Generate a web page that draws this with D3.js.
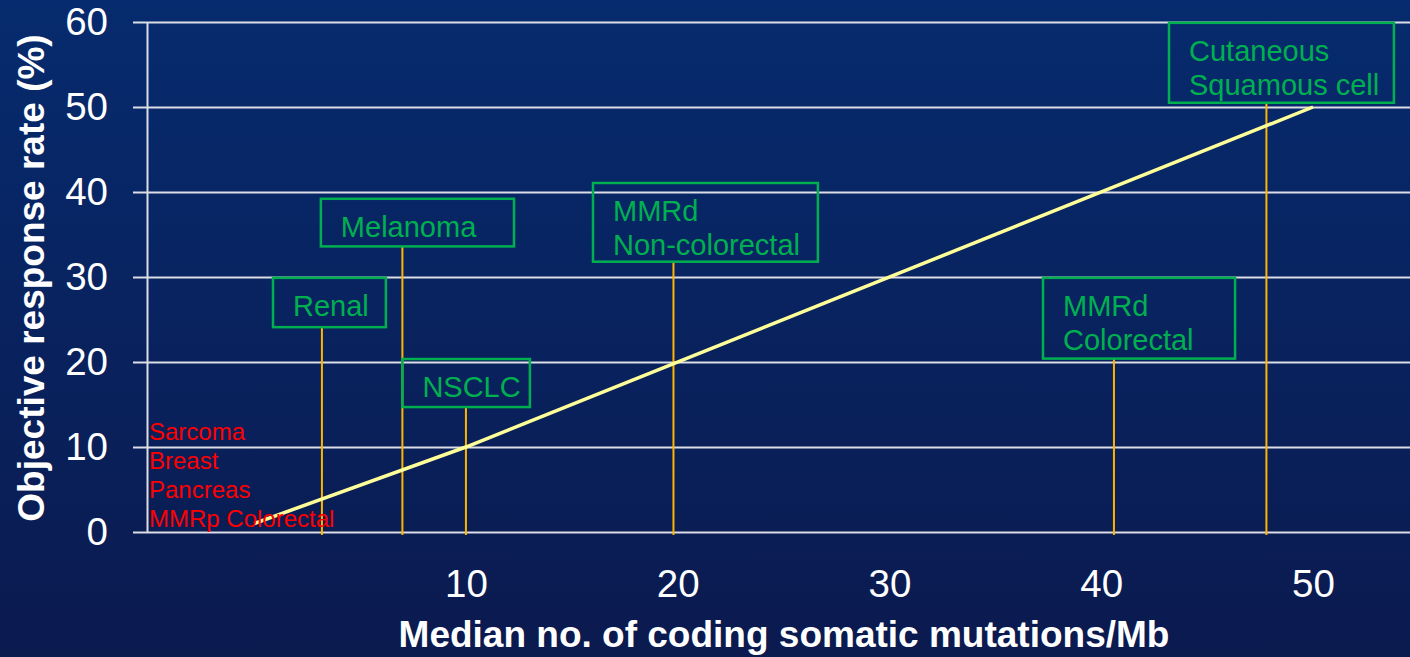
<!DOCTYPE html>
<html>
<head>
<meta charset="utf-8">
<script src="https://cdn.jsdelivr.net/npm/d3@7"></script>
<style>
  html, body { margin: 0; padding: 0; background: #0a1f5c; }
  svg { display: block; font-family: "Liberation Sans", Arial, sans-serif; }
</style>
</head>
<body>
<svg id="chart"></svg>
<script>
// tumour types with a labelled stem
var cancers = ['Renal', 'Melanoma', 'NSCLC', 'MMRd Non-colorectal', 'MMRd Colorectal', 'Cutaneous Squamous cell']
var labelLines = [['Renal'], ['Melanoma'], ['NSCLC'], ['MMRd', 'Non-colorectal'], ['MMRd', 'Colorectal'], ['Cutaneous', 'Squamous cell']]
var mutations = [3.2, 7.0, 10.0, 19.8, 40.6, 47.8]       // median mutations / Mb
var responseRate = [24.1, 33.6, 14.7, 31.8, 20.4, 50.5]  // ORR %

// low-response tumours listed in the corner
var lowResponders = ['Sarcoma', 'Breast', 'Pancreas', 'MMRp Colorectal']

// trend line
var trendX = [0, 10, 50]
var trendY = [1, 10, 50]

var yTicks = [0, 10, 20, 30, 40, 50, 60]
var xTicks = [10, 20, 30, 40, 50]

// label box extents, in data units (left, right, top)
var boxLeft = [0.89, 3.15, 7.0, 16.0, 37.25, 43.2]
var boxRight = [6.22, 12.27, 13.02, 26.62, 46.32, 53.82]
var boxTop = [29.9, 39.2, 20.35, 41.06, 29.9, 59.9]

var W = 1410, H = 657
var green = '#00b050', orange = '#ffb400', grid = '#dcdde6'

var svg = d3.select('#chart').attr('width', W).attr('height', H)

var grad = svg.append('defs').append('linearGradient')
  .attr('id', 'bg').attr('x1', 0).attr('y1', 0).attr('x2', 0).attr('y2', 1)
grad.append('stop').attr('offset', '0%').attr('stop-color', '#062b6e')
grad.append('stop').attr('offset', '100%').attr('stop-color', '#0b1a4f')
svg.append('rect').attr('width', W).attr('height', H).attr('fill', 'url(#bg)')

var x = d3.scaleLinear().domain([-5.06, 54.58]).range([147, 1410])
  , y = d3.scaleLinear().domain([0, 60]).range([532, 22])

var plotW = x.range()[1] - x.range()[0]

// y axis + gridlines
var gy = svg.append('g')
  .attr('transform', 'translate(' + x.range()[0] + ',0)')
  .call(d3.axisLeft(y).tickValues(yTicks).tickSizeInner(-plotW).tickSizeOuter(0).tickPadding(39))
gy.select('.domain').attr('stroke', grid).attr('stroke-width', 2)
gy.selectAll('.tick line').attr('x1', -14).attr('x2', plotW).attr('stroke', grid).attr('stroke-width', 2)
gy.selectAll('.tick text').attr('fill', '#fff').attr('font-size', 38.5).attr('font-family', '"Liberation Sans", Arial, sans-serif')

// x axis labels only
var gx = svg.append('g')
  .attr('transform', 'translate(0,' + y(0) + ')')
  .call(d3.axisBottom(x).tickValues(xTicks).tickSize(0).tickPadding(38))
gx.select('.domain').remove()
gx.selectAll('.tick text').attr('fill', '#fff').attr('font-size', 38.5).attr('font-family', '"Liberation Sans", Arial, sans-serif')

// axis titles
svg.append('text')
  .attr('x', 784).attr('y', 647)
  .attr('text-anchor', 'middle').attr('fill', '#fff')
  .attr('font-size', 37).attr('font-weight', 'bold')
  .text('Median no. of coding somatic mutations/Mb')

svg.append('text')
  .attr('transform', 'translate(44,278) rotate(-90)')
  .attr('text-anchor', 'middle').attr('fill', '#fff')
  .attr('font-size', 37).attr('font-weight', 'bold')
  .text('Objective response rate (%)')

// stems
svg.selectAll('line.stem').data(cancers).enter().append('line')
  .attr('class', 'stem')
  .attr('x1', function (d, i) { return x(mutations[i]) })
  .attr('x2', function (d, i) { return x(mutations[i]) })
  .attr('y1', function (d, i) { return y(responseRate[i]) })
  .attr('y2', y(0) + 3)
  .attr('stroke', orange).attr('stroke-width', 2)

// trend line
svg.append('path')
  .datum(d3.range(trendX.length))
  .attr('d', d3.line().x(function (i) { return x(trendX[i]) }).y(function (i) { return y(trendY[i]) }))
  .attr('stroke', '#ffff99').attr('stroke-width', 3.5).attr('fill', 'none')

// label boxes
var lab = svg.selectAll('g.lab').data(cancers).enter().append('g').attr('class', 'lab')
lab.append('rect')
  .attr('x', function (d, i) { return x(boxLeft[i]) })
  .attr('y', function (d, i) { return y(boxTop[i]) })
  .attr('width', function (d, i) { return x(boxRight[i]) - x(boxLeft[i]) })
  .attr('height', function (d, i) { return y(responseRate[i]) - y(boxTop[i]) })
  .attr('fill', 'none').attr('stroke', green).attr('stroke-width', 2.5)
lab.each(function (d, i) {
  var t = d3.select(this).append('text')
    .attr('fill', green).attr('font-size', 29)
  labelLines[i].forEach(function (line, j) {
    t.append('tspan')
      .attr('x', x(boxLeft[i]) + 20)
      .attr('y', y(boxTop[i]) + 38 + j * 34.5)
      .text(line)
  })
})

// low responders in red
svg.append('g').selectAll('text').data(lowResponders).enter().append('text')
  .attr('x', x.range()[0] + 2)
  .attr('y', function (d, i) { return y(0) - 5 - (lowResponders.length - 1 - i) * 29 })
  .attr('fill', '#ff0000').attr('font-size', 24)
  .text(function (d) { return d })
</script>
</body>
</html>
